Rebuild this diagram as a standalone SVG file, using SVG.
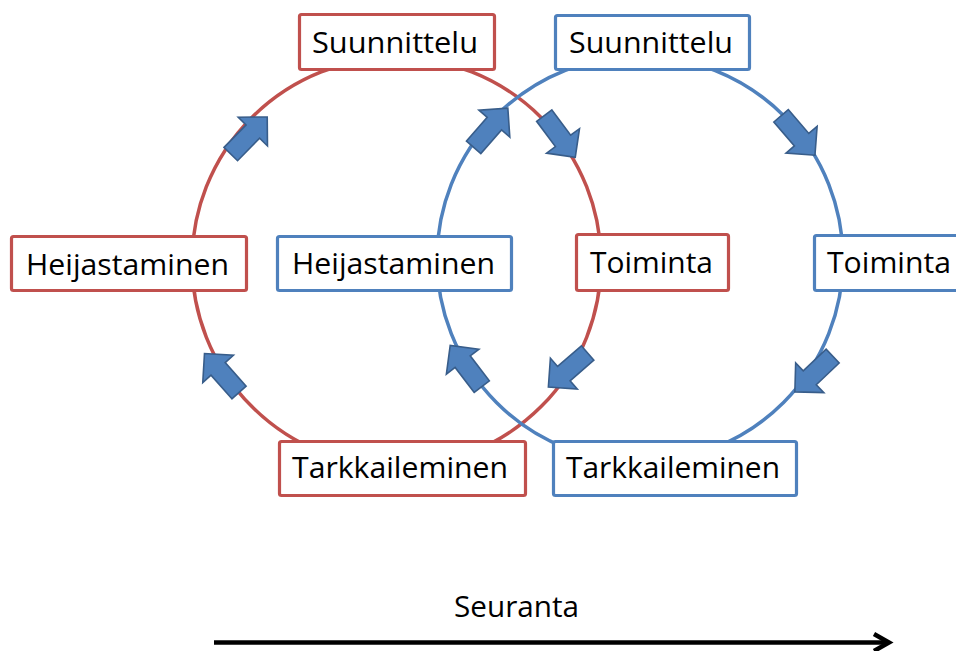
<svg xmlns="http://www.w3.org/2000/svg" width="956" height="651" viewBox="0 0 956 651">
  <style>
    .ring { fill: none; stroke-width: 3.5; }
    .red { stroke: #C0504D; }
    .blue { stroke: #4F81BD; }
    .box { fill: #FFFFFF; stroke-width: 3.2; }
    .lbl { font-family: "Open Sans", "Noto Sans", "DejaVu Sans", sans-serif; font-size: 29.5px; fill: #000000; }
    .flow { fill: #4F81BD; stroke: #385D8A; stroke-width: 1.6; stroke-linejoin: miter; }
  </style>
  <defs>
    <!-- block arrow pointing along +x, centred on the origin -->
    <path id="blockArrow" d="M-26,-9.5 L5.5,-9.5 L5.5,-20.5 L26,0 L5.5,20.5 L5.5,9.5 L-26,9.5 Z"/>
  </defs>
  <rect width="956" height="651" fill="#FFFFFF"/>

  <!-- cycle rings -->
  <g id="connectors">
    <circle class="ring red" cx="396.5" cy="262" r="204.5"/>
    <circle class="ring blue" cx="640" cy="259" r="203"/>
  </g>

  <!-- first cycle (red) -->
  <g id="red-suunnittelu">
    <rect class="box red" x="299.5" y="14.5" width="195" height="55" rx="2"/>
    <text class="lbl" x="312" y="53" textLength="166" lengthAdjust="spacingAndGlyphs">Suunnittelu</text>
  </g>
  <g id="red-heijastaminen">
    <rect class="box red" x="11.5" y="236.5" width="235" height="54" rx="2"/>
    <text class="lbl" x="26" y="275" textLength="203" lengthAdjust="spacingAndGlyphs">Heijastaminen</text>
  </g>
  <g id="red-toiminta">
    <rect class="box red" x="576.5" y="234.5" width="152" height="56" rx="2"/>
    <text class="lbl" x="590" y="273" textLength="123" lengthAdjust="spacingAndGlyphs">Toiminta</text>
  </g>
  <g id="red-tarkkaileminen">
    <rect class="box red" x="279.5" y="441.5" width="246" height="54" rx="2"/>
    <text class="lbl" x="292" y="478" textLength="216" lengthAdjust="spacingAndGlyphs">Tarkkaileminen</text>
  </g>

  <!-- second cycle (blue) -->
  <g id="blue-suunnittelu">
    <rect class="box blue" x="555.5" y="15.5" width="194" height="54" rx="2"/>
    <text class="lbl" x="569" y="53" textLength="164" lengthAdjust="spacingAndGlyphs">Suunnittelu</text>
  </g>
  <g id="blue-heijastaminen">
    <rect class="box blue" x="277.5" y="236.5" width="234" height="54" rx="2"/>
    <text class="lbl" x="292" y="274" textLength="203" lengthAdjust="spacingAndGlyphs">Heijastaminen</text>
  </g>
  <g id="blue-toiminta">
    <rect class="box blue" x="814.5" y="235.5" width="160" height="55" rx="2"/>
    <text class="lbl" x="827" y="273" textLength="124" lengthAdjust="spacingAndGlyphs">Toiminta</text>
  </g>
  <g id="blue-tarkkaileminen">
    <rect class="box blue" x="553.5" y="441.5" width="243" height="54" rx="2"/>
    <text class="lbl" x="566" y="478" textLength="214" lengthAdjust="spacingAndGlyphs">Tarkkaileminen</text>
  </g>

  <!-- direction arrows on the rings -->
  <g id="flow-arrows">
    <use href="#blockArrow" class="flow" transform="translate(249,135.5) rotate(-45.5)"/>
    <use href="#blockArrow" class="flow" transform="translate(490.75,127.75) rotate(-48.9)"/>
    <use href="#blockArrow" class="flow" transform="translate(559.75,136.5) rotate(53.4)"/>
    <use href="#blockArrow" class="flow" transform="translate(798,135.5) rotate(49.3)"/>
    <use href="#blockArrow" class="flow" transform="translate(568,370) rotate(139)"/>
    <use href="#blockArrow" class="flow" transform="translate(813.75,374) rotate(136.6)"/>
    <use href="#blockArrow" class="flow" transform="translate(221.75,373) rotate(-131.6)"/>
    <use href="#blockArrow" class="flow" transform="translate(466,366) rotate(-127.4)"/>
  </g>

  <!-- time axis -->
  <g id="seuranta">
    <text class="lbl" x="454" y="617" textLength="125" lengthAdjust="spacingAndGlyphs">Seuranta</text>
    <line x1="214" y1="642.5" x2="887" y2="642.5" stroke="#000000" stroke-width="4.5"/>
    <polyline points="874,634 889,642.5 874,651" fill="none" stroke="#000000" stroke-width="4.5" stroke-linejoin="miter"/>
  </g>
</svg>
